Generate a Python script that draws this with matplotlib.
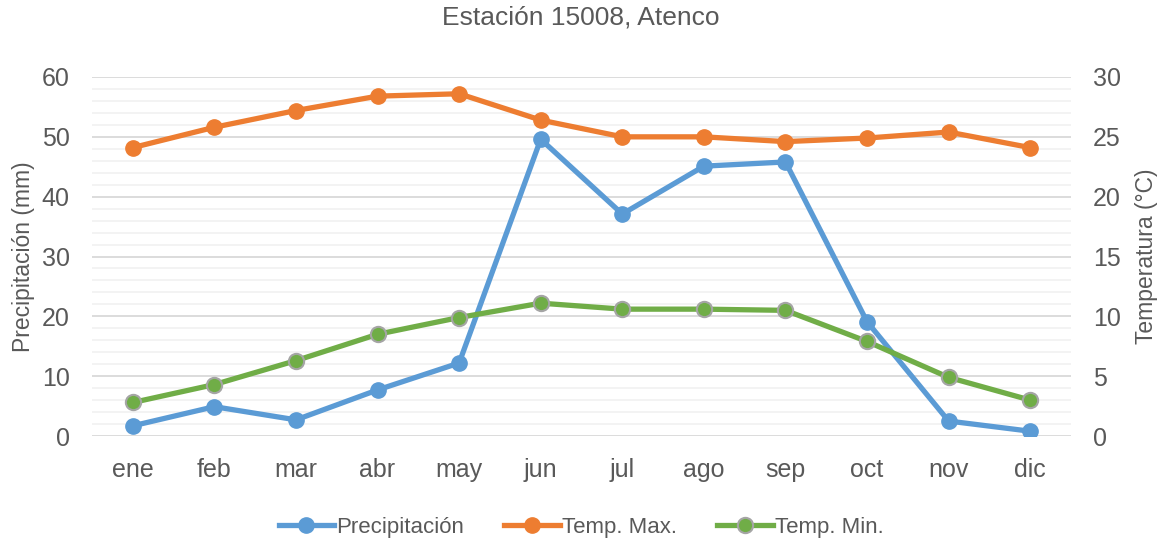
import numpy as np
import matplotlib.pyplot as plt
from matplotlib.ticker import MultipleLocator

# -----------------------------
# DATA
# -----------------------------
meses = ['ene', 'feb', 'mar', 'abr', 'may', 'jun', 'jul', 'ago', 'sep', 'oct', 'nov', 'dic']
precipitacion = [1.7, 4.9, 2.7, 7.7, 12.2, 49.6, 37.1, 45.1, 45.8, 19.1, 2.5, 0.8]
temp_max = [24.1, 25.8, 27.2, 28.4, 28.6, 26.4, 25.0, 25.0, 24.6, 24.9, 25.4, 24.1]
temp_min = [2.8, 4.3, 6.3, 8.5, 9.9, 11.1, 10.6, 10.6, 10.5, 7.9, 4.9, 3.0]

# -----------------------------
# STYLE
# -----------------------------
plt.rcParams['font.family'] = ['Liberation Sans', 'DejaVu Sans']
txt = '#595959'
azul, naranja, verde = '#5B9BD5', '#ED7D31', '#70AD47'

fig = plt.figure(figsize=(11.62, 5.39), dpi=100)
ax = fig.add_axes([92/1162, 103/539, 979/1162, 359/539])
ax2 = ax.twinx()

x = np.arange(len(meses))
lp, = ax.plot(x, precipitacion, color=azul, lw=3.8, marker='o', ms=11,
              label='Precipitación')
lmax, = ax2.plot(x, temp_max, color=naranja, lw=3.8, marker='o', ms=11,
                 label='Temp. Max.')
lmin, = ax2.plot(x, temp_min, color=verde, lw=3.8, marker='o', ms=11,
                 markeredgecolor='#A5A5A5', markeredgewidth=1.5, label='Temp. Min.')

ax.set_xlim(-0.5, len(meses) - 0.5)
ax.set_ylim(0, 60)
ax2.set_ylim(0, 30)
ax.yaxis.set_major_locator(MultipleLocator(10))
ax.yaxis.set_minor_locator(MultipleLocator(2))
ax2.yaxis.set_major_locator(MultipleLocator(5))
ax.set_xticks(x)
ax.set_xticklabels(meses)

ax.grid(True, which='major', axis='y', color='#D9D9D9', lw=1.3)
ax.grid(True, which='minor', axis='y', color='#F2F2F2', lw=1.3)
ax.set_axisbelow(True)

for a in (ax, ax2):
    for s in a.spines.values():
        s.set_visible(False)
    a.tick_params(length=0, labelsize=18, colors=txt, which='both')
ax.tick_params(axis='x', pad=16)
ax.tick_params(axis='y', pad=16)
ax2.tick_params(axis='y', pad=16)

ax.set_ylabel('Precipitación (mm)', fontsize=16.5, color=txt, labelpad=5)
ax2.set_ylabel('Temperatura (°C)', fontsize=16.5, color=txt, labelpad=10)
fig.suptitle('Estación 15008, Atenco', fontsize=19, color=txt, y=0.99)

fig.legend(handles=[lp, lmax, lmin], loc='lower center', ncol=3, frameon=False,
           fontsize=16, labelcolor=txt, bbox_to_anchor=(0.5, -0.035),
           handlelength=2.5, handletextpad=0.1, columnspacing=1.8)

fig.savefig('out.png', dpi=100)
